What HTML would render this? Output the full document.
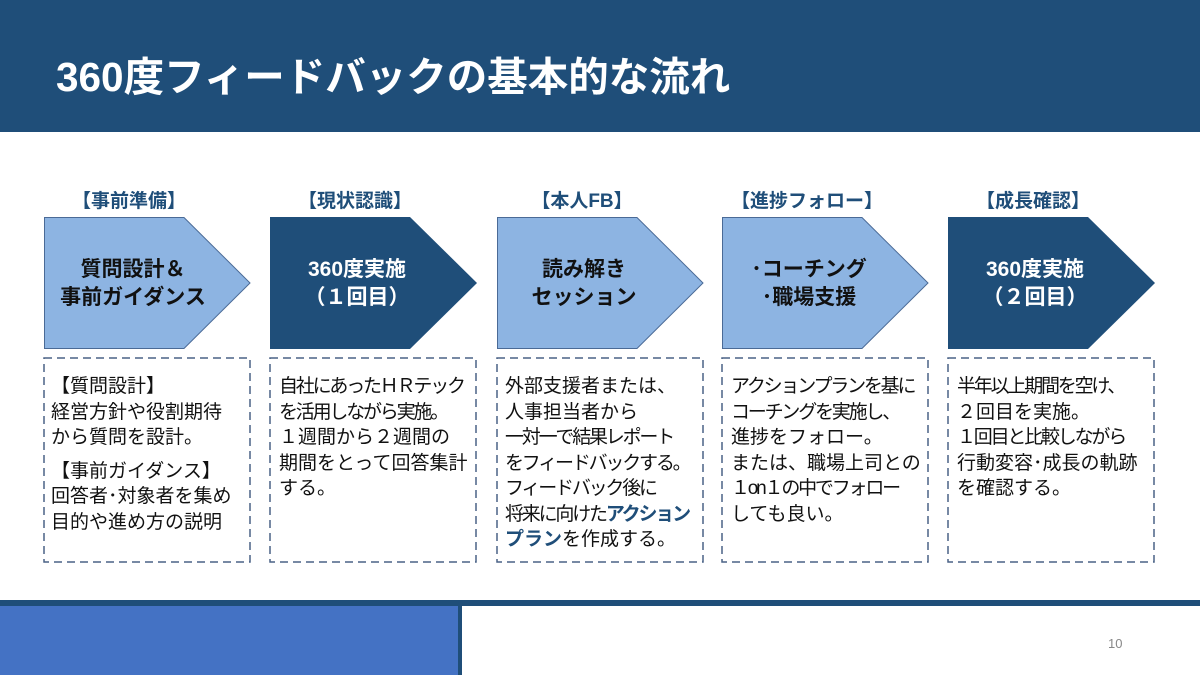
<!DOCTYPE html>
<html><head><meta charset="utf-8"><style>
*{margin:0;padding:0;box-sizing:border-box}
body{width:1200px;height:675px;position:relative;overflow:hidden;background:#fff;font-family:"Liberation Sans","Noto Sans CJK JP",sans-serif}
.hdr{position:absolute;left:0;top:0;width:1200px;height:132px;background:#1F4E79}
.ttl{position:absolute;left:56px;top:44px;color:#fff;font-size:40.5px;font-weight:bold;white-space:nowrap}
.lbl{position:absolute;top:186px;width:206px;text-align:center;color:#1F4E79;font-weight:bold;font-size:19px}
.chev{position:absolute;top:217px;width:208px;height:132px}
.ct{position:absolute;top:256px;width:180px;text-align:center;font-weight:bold;font-size:21px;line-height:28px;white-space:nowrap}
.box{position:absolute;top:357px;width:208px;height:206px}
.bt{position:absolute;top:374px;font-size:19px;line-height:25.5px;color:#111;white-space:nowrap}
.t{letter-spacing:-2.2px}
.hl{color:#1F4E79;font-weight:bold}
</style></head><body>
<div class="hdr"></div>
<div class="ttl">360度フィードバックの基本的な流れ</div>

<div class="lbl" style="left:26px">【事前準備】</div>
<div class="lbl" style="left:252px">【現状認識】</div>
<div class="lbl" style="left:479px">【本人FB】</div>
<div class="lbl" style="left:704px">【進捗フォロー】</div>
<div class="lbl" style="left:930px">【成長確認】</div>

<svg class="chev" style="left:44px" viewBox="0 0 208 132"><polygon points="0.5,0.5 140,0.5 206,66 140,131.5 0.5,131.5" fill="#8DB4E2" stroke="#4a6a96" stroke-width="1"/></svg>
<svg class="chev" style="left:270px" viewBox="0 0 208 132"><polygon points="0,0 140,0 207,66 140,132 0,132" fill="#1F4E79"/></svg>
<svg class="chev" style="left:497px" viewBox="0 0 208 132"><polygon points="0.5,0.5 140,0.5 206,66 140,131.5 0.5,131.5" fill="#8DB4E2" stroke="#4a6a96" stroke-width="1"/></svg>
<svg class="chev" style="left:722px" viewBox="0 0 208 132"><polygon points="0.5,0.5 140,0.5 206,66 140,131.5 0.5,131.5" fill="#8DB4E2" stroke="#4a6a96" stroke-width="1"/></svg>
<svg class="chev" style="left:948px" viewBox="0 0 208 132"><polygon points="0,0 140,0 207,66 140,132 0,132" fill="#1F4E79"/></svg>

<div class="ct" style="left:43px;color:#111">質問設計＆<br>事前ガイダンス</div>
<div class="ct" style="left:267px;color:#fff">360度実施<br>（１回目）</div>
<div class="ct" style="left:494px;color:#111">読み解き<br>セッション</div>
<div class="ct" style="left:719px;color:#111">･コーチング<br>･職場支援</div>
<div class="ct" style="left:945px;color:#fff">360度実施<br>（２回目）</div>

<svg class="box" style="left:43px" viewBox="0 0 208 206"><rect x="1" y="1" width="206" height="204" fill="none" stroke="#4a6286" stroke-width="1.5" stroke-dasharray="8,5"/></svg>
<svg class="box" style="left:269px" viewBox="0 0 208 206"><rect x="1" y="1" width="206" height="204" fill="none" stroke="#4a6286" stroke-width="1.5" stroke-dasharray="8,5"/></svg>
<svg class="box" style="left:496px" viewBox="0 0 208 206"><rect x="1" y="1" width="206" height="204" fill="none" stroke="#4a6286" stroke-width="1.5" stroke-dasharray="8,5"/></svg>
<svg class="box" style="left:721px" viewBox="0 0 208 206"><rect x="1" y="1" width="206" height="204" fill="none" stroke="#4a6286" stroke-width="1.5" stroke-dasharray="8,5"/></svg>
<svg class="box" style="left:947px" viewBox="0 0 208 206"><rect x="1" y="1" width="206" height="204" fill="none" stroke="#4a6286" stroke-width="1.5" stroke-dasharray="8,5"/></svg>

<div class="bt" style="left:51px">【質問設計】<br>経営方針や役割期待<br>から質問を設計。<br><span style="display:block;height:8px"></span>【事前ガイダンス】<br>回答者･対象者を集め<br>目的や進め方の説明</div>
<div class="bt" style="left:279px"><span class="t">自社にあったＨＲテック</span><br><span class="t">を活用しながら実施。</span><br>１週間から２週間の<br>期間をとって回答集計<br>する。</div>
<div class="bt" style="left:505px">外部支援者または、<br>人事担当者から<br><span class="t">一対一で結果レポート</span><br><span class="t">をフィードバックする。</span><br><span class="t">フィードバック後に</span><br><span class="t">将来に向けた<span class="hl">アクション</span></span><br><span class="hl">プラン</span>を作成する。</div>
<div class="bt" style="left:731px"><span class="t">アクションプランを基に</span><br><span class="t">コーチングを実施し、</span><br>進捗をフォロー。<br>または、職場上司との<br><span class="t">１on１の中でフォロー</span><br>しても良い。</div>
<div class="bt" style="left:957px"><span class="t">半年以上期間を空け、</span><br>２回目を実施。<br><span class="t">１回目と比較しながら</span><br>行動変容･成長の軌跡<br>を確認する。</div>

<div style="position:absolute;left:0;top:600px;width:1200px;height:6px;background:#1F4E79"></div>
<div style="position:absolute;left:0;top:606px;width:458px;height:69px;background:#4472C4"></div>
<div style="position:absolute;left:458px;top:606px;width:4px;height:69px;background:#1F4E79"></div>
<div style="position:absolute;left:1108px;top:636px;font-size:13px;color:#888">10</div>
</body></html>
